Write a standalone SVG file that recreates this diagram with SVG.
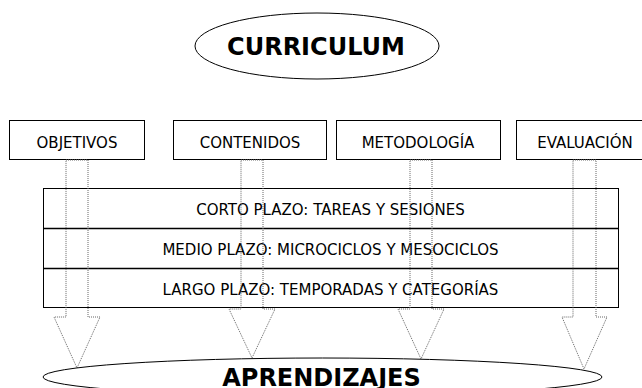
<svg xmlns="http://www.w3.org/2000/svg" width="642" height="388" viewBox="0 0 642 388">
  <style>
    .box { fill: #fff; stroke: #000; stroke-width: 1; }
    .lbl { font-family: "DejaVu Sans", Verdana, sans-serif; font-size: 15px; fill: #000; text-anchor: middle; }
    .big { font-family: "DejaVu Sans", Verdana, sans-serif; font-size: 24px; font-weight: bold; fill: #000; text-anchor: middle; }
    .arrow { fill: none; stroke: #666; stroke-width: 1; stroke-dasharray: 1 1; }
    .ell { fill: #fff; stroke: #000; stroke-width: 1; }
  </style>
  <rect width="642" height="388" fill="#fff"/>

  <g id="curriculum">
    <ellipse class="ell" cx="317" cy="46" rx="122" ry="33"/>
    <text class="big" x="316" y="55">CURRICULUM</text>
  </g>

  <g id="objetivos">
    <rect class="box" x="9.5" y="120.5" width="135" height="39"/>
    <text class="lbl" x="77" y="148">OBJETIVOS</text>
  </g>
  <g id="contenidos">
    <rect class="box" x="173.5" y="120.5" width="153" height="39"/>
    <text class="lbl" x="250" y="148">CONTENIDOS</text>
  </g>
  <g id="metodologia">
    <rect class="box" x="336.5" y="120.5" width="164" height="39"/>
    <text class="lbl" x="418" y="148">METODOLOGÍA</text>
  </g>
  <g id="evaluacion">
    <rect class="box" x="516.5" y="120.5" width="140" height="39"/>
    <text class="lbl" x="585" y="148">EVALUACIÓN</text>
  </g>

  <g id="plazos">
    <rect class="box" x="43.5" y="188.5" width="575" height="119"/>
    <line x1="43.5" y1="228.5" x2="618.5" y2="228.5" stroke="#000" stroke-width="1.3"/>
    <line x1="43.5" y1="268.5" x2="618.5" y2="268.5" stroke="#000" stroke-width="1.6"/>
    <text class="lbl" x="330.5" y="215">CORTO PLAZO: TAREAS Y SESIONES</text>
    <text class="lbl" x="330.5" y="255">MEDIO PLAZO: MICROCICLOS Y MESOCICLOS</text>
    <text class="lbl" x="330.5" y="295">LARGO PLAZO: TEMPORADAS Y CATEGORÍAS</text>
  </g>

  <g id="connectors">
    <polygon class="arrow" points="66,160 88,160 88,317 100,317 77,368 54,317 66,317"/>
    <polygon class="arrow" points="241,160 263,160 263,309 275,309 252,358 229,309 241,309"/>
    <polygon class="arrow" points="410,160 432,160 432,309 444,309 421,359 398,309 410,309"/>
    <polygon class="arrow" points="573,160 596,160 596,317 607,317 584,369 562,317 573,317"/>
  </g>

  <g id="aprendizajes">
    <path class="ell" d="M 43,377 A 279.5,19 0 0 1 602,377 A 279.5,19 0 0 1 43,377 Z"/>
    <text class="big" x="321.5" y="386">APRENDIZAJES</text>
  </g>
</svg>
